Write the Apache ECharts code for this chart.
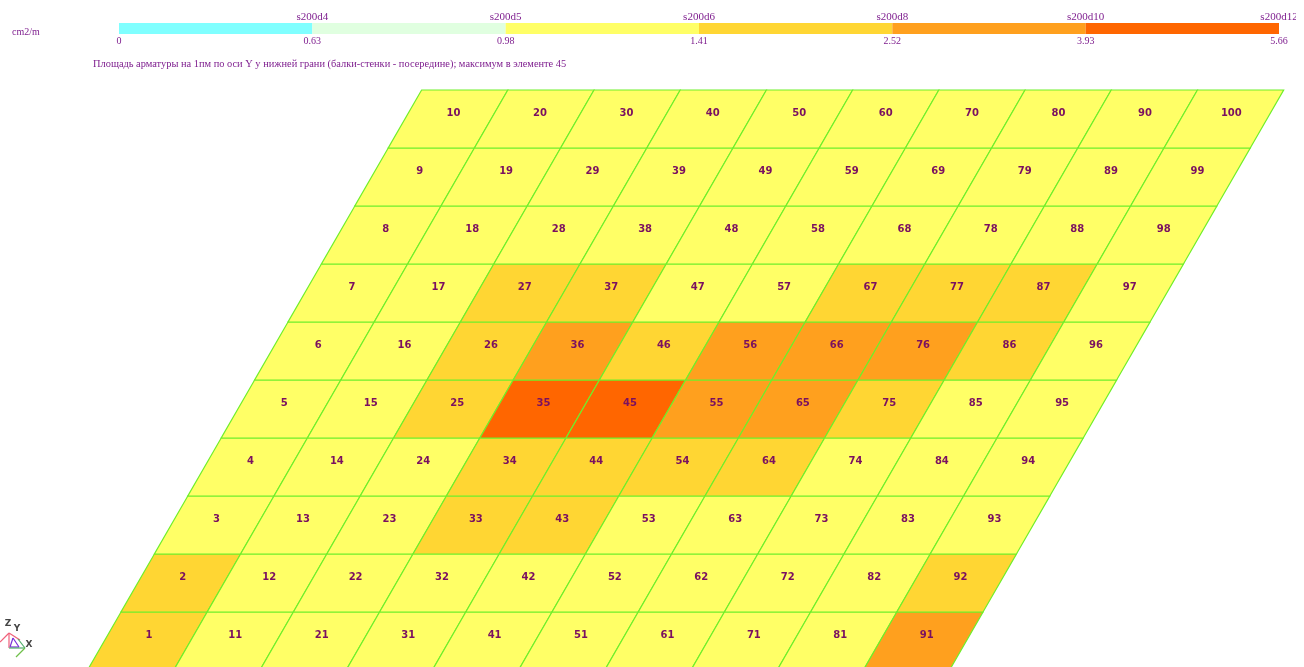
<!DOCTYPE html>
<html>
<head>
<meta charset="utf-8">
<style>
html,body{margin:0;padding:0;background:#fff;overflow:hidden}
#chart{width:1304px;height:667px;filter:blur(0.35px)}
</style>
<script src="https://cdn.jsdelivr.net/npm/echarts@6/dist/echarts.min.js"></script>
</head>
<body>
<div id="chart"></div>
<script>
// Colour band of each plate element, one list per column (elements 1-10, 11-20, ...)
var column1 = [3,3,2,2,2,2,2,2,2,2];
var column2 = [2,2,2,2,2,2,2,2,2,2];
var column3 = [2,2,2,2,3,3,3,2,2,2];
var column4 = [2,2,3,3,5,4,3,2,2,2];
var column5 = [2,2,3,3,5,3,2,2,2,2];
var column6 = [2,2,2,3,4,4,2,2,2,2];
var column7 = [2,2,2,3,4,4,3,2,2,2];
var column8 = [2,2,2,2,3,4,3,2,2,2];
var column9 = [2,2,2,2,2,3,3,2,2,2];
var column10 = [4,3,2,2,2,2,2,2,2,2];
var bandValueLabels = ['0','0.63','0.98','1.41','2.52','3.93','5.66'];
var bandRebarLabels = ['','s200d4','s200d5','s200d6','s200d8','s200d10','s200d12'];
var unitLabel = 'cm2/m';
var chartTitle = 'Площадь арматуры на 1пм по оси Y у нижней грани (балки-стенки - посередине); максимум в элементе 45';

var bandColors = ['#80FFFF','#E0FFE0','#FFFF66','#FFD633','#FFA01E','#FF6600'];
var columns = [column1,column2,column3,column4,column5,column6,column7,column8,column9,column10];
var SKEW = 0.3875;
var COL_PX = 86.2;
var TXT = '#7F1F8F';

var plateData = [];
columns.forEach(function(col,c){
  col.forEach(function(band,r){ plateData.push([c,r,band,c*10+r+1]); });
});
var legendData = bandColors.map(function(_,i){return [i,i+1,i];});

function pt(api,u,j){ return api.coord([u+j*SKEW,j]); }

function renderPlate(params,api){
  var c=api.value(0), r=api.value(1), band=api.value(2), id=api.value(3);
  var poly=[pt(api,c,r),pt(api,c+1,r),pt(api,c+1,r+1),pt(api,c,r+1)];
  var lab=pt(api,c+0.5+(-2+0.222*c+0.444*r)/COL_PX,r+0.605);
  return {type:'group',children:[
    {type:'polygon',shape:{points:poly},style:{fill:bandColors[band],stroke:'#6FEF2A',lineWidth:1.2}},
    {type:'text',z2:10,style:{x:lab[0],y:lab[1],text:String(id),align:'center',verticalAlign:'middle',
      fill:'#7A1060',font:'bold 10px "DejaVu Sans"'}}
  ]};
}
function renderLegend(params,api){
  var a=api.coord([api.value(0),0]), b=api.coord([api.value(1),1]);
  return {type:'rect',shape:{x:a[0],y:b[1],width:b[0]-a[0],height:a[1]-b[1]},
    style:{fill:bandColors[api.value(2)]}};
}

var line=function(x1,y1,x2,y2,c){return {type:'line',silent:true,shape:{x1:x1,y1:y1,x2:x2,y2:y2},style:{stroke:c,lineWidth:1.2}};};
var tri=function(x,y,t){return {type:'text',silent:true,style:{x:x,y:y,text:t,fill:'#444',font:'bold 9px "DejaVu Sans"',align:'center',verticalAlign:'middle'}};};

var chart=echarts.init(document.getElementById('chart'),null,{renderer:'canvas'});
chart.setOption({
  animation:false,
  backgroundColor:'#fff',
  title:[
    {text:unitLabel,left:7,top:22,textStyle:{color:TXT,fontSize:10,fontWeight:'normal',fontFamily:'Liberation Serif'}},
    {text:chartTitle,left:88,top:54,textStyle:{color:TXT,fontSize:10.4,fontWeight:'normal',fontFamily:'Liberation Serif'}}
  ],
  grid:[
    {left:0,top:0,width:1304,height:667},
    {left:119,top:23,width:1160,height:11}
  ],
  xAxis:[
    {gridIndex:0,type:'value',min:-1.016,max:14.111,show:false},
    {gridIndex:1,type:'value',min:0,max:6,interval:1,position:'bottom',
      axisLine:{show:false},axisTick:{show:false},splitLine:{show:false},
      axisLabel:{margin:2,color:TXT,fontSize:10,fontFamily:'Liberation Serif',
        formatter:function(v){return bandValueLabels[v];}}},
    {gridIndex:1,type:'value',min:0,max:6,interval:1,position:'top',
      axisLine:{show:false},axisTick:{show:false},splitLine:{show:false},
      axisLabel:{margin:0,color:TXT,fontSize:11,fontFamily:'Liberation Serif',
        formatter:function(v){return bandRebarLabels[v];}}}
  ],
  yAxis:[
    {gridIndex:0,type:'value',min:0.052,max:11.552,show:false},
    {gridIndex:1,type:'value',min:0,max:1,show:false}
  ],
  series:[
    {type:'custom',xAxisIndex:0,yAxisIndex:0,data:plateData,renderItem:renderPlate,clip:false,silent:true},
    {type:'custom',xAxisIndex:1,yAxisIndex:1,data:legendData,renderItem:renderLegend,silent:true}
  ],
  graphic:[
    {type:'rect',silent:true,z:100,shape:{x:1296,y:0,width:8,height:80},style:{fill:'#fff'}},
    line(9,633,0,642,'#f0607a'),line(9,633,9,648,'#f0607a'),line(9,633,20,640,'#f0607a'),
    line(13,638,10,647,'#7a2fd8'),line(13,638,19,647,'#7a2fd8'),line(10,647,19,647,'#7a2fd8'),
    line(9,648,25,648,'#4fae6a'),line(25,648,16,657,'#6fc04a'),line(18,639,25,648,'#4fae6a'),
    tri(8,624,'Z'),tri(17,629,'Y'),tri(29,645,'X')
  ]
});
</script>
</body>
</html>
